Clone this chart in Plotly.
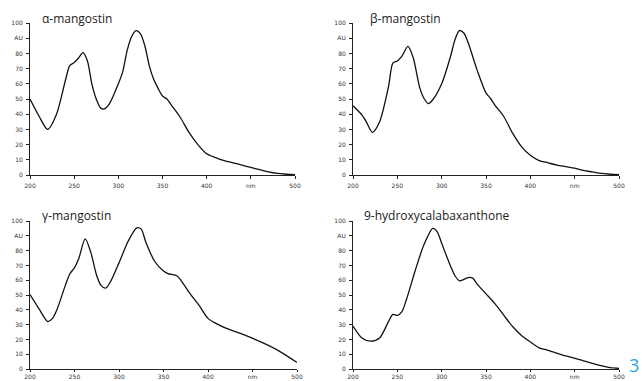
import plotly.graph_objects as go

# ---- data ----
titles = ["α-mangostin", "β-mangostin", "γ-mangostin", "9-hydroxycalabaxanthone"]

alpha_nm = [200, 210, 220, 230, 240, 245, 250, 255, 260, 265, 270, 275, 280, 284, 290, 300, 305, 310, 315, 320, 325, 330, 335, 340, 345, 350, 355, 360, 370, 380, 390, 400, 410, 420, 430, 440, 450, 460, 470, 480, 490, 500]
alpha_au = [50, 39, 30, 40, 62, 72, 74, 77, 80.5, 75, 60, 50, 44, 43.5, 47, 60, 68, 82, 91, 95, 93, 85, 72, 63, 57, 52, 50, 46, 38, 28, 20, 14, 11.5, 9.5, 8, 6.5, 5, 3.5, 2, 1, 0.5, 0.2]

beta_nm = [200, 210, 215, 222, 230, 240, 245, 250, 255, 262, 268, 275, 280, 285, 290, 300, 310, 315, 320, 325, 330, 340, 350, 355, 360, 370, 380, 390, 400, 410, 420, 430, 440, 450, 460, 470, 480, 490, 500]
beta_au = [45.5, 39.5, 35, 28, 35, 58, 73.6, 75, 78, 84.6, 77, 58, 50.5, 47, 49.5, 60, 78, 89, 95, 93.4, 86.8, 69, 54, 50.5, 46, 38.5, 27.5, 18.7, 13, 9.5, 8, 6.5, 5.5, 4.5, 3, 2, 1, 0.5, 0.2]

gamma_nm = [200, 210, 220, 225, 230, 240, 245, 250, 255, 262, 268, 275, 280, 285, 290, 300, 310, 320, 325, 330, 340, 350, 355, 365, 370, 380, 390, 400, 410, 420, 440, 460, 480, 500]
gamma_au = [50.3, 40.8, 32, 34, 39.7, 57, 64.5, 68.4, 75, 87.9, 79.5, 63, 56.3, 54.7, 58.5, 71.7, 86, 95.4, 94.5, 86, 72.8, 66.2, 64.5, 63, 59.6, 50.8, 43, 34.2, 30.5, 27.6, 23.2, 18.1, 12.1, 4.4]

hydroxy_nm = [200, 210, 220, 230, 240, 245, 250, 255, 260, 270, 280, 290, 295, 300, 310, 315, 320, 325, 330, 335, 340, 350, 360, 370, 380, 390, 400, 410, 420, 440, 460, 480, 490, 500]
hydroxy_au = [29, 21, 18.8, 21, 32, 36.9, 36.2, 38.6, 46.4, 66.2, 83.9, 95, 92.7, 85, 69.5, 63, 59.6, 60.5, 61.8, 61.4, 57.4, 50.8, 44.2, 36.4, 28.7, 22.7, 18.3, 14.3, 12.6, 8.8, 5.5, 2.2, 0.9, 0.4]

x_tickvals = [200, 250, 300, 350, 400, 450, 500]
x_ticktext = ["200", "250", "300", "350", "400", "nm", "500"]
y_tickvals = [0, 10, 20, 30, 40, 50, 60, 70, 80, 90, 100]
y_ticktext = ["0", "10", "20", "30", "40", "50", "60", "70", "80", "AU", "100"]

page_number = "3"

series = [(alpha_nm, alpha_au), (beta_nm, beta_au), (gamma_nm, gamma_au), (hydroxy_nm, hydroxy_au)]

W, H = 642, 381
# pixel boxes for each panel: (x_left, x_right, y_top(100), y_bottom(0))
boxes = [(30, 295, 23, 175), (353, 619, 23, 175), (30, 297, 221, 369), (353, 619, 221, 369)]
title_pos = [(40, 19), (368, 19), (40, 215), (362, 215)]

fig = go.Figure()
for i, ((xs, ys), (xl, xr, yt, yb)) in enumerate(zip(series, boxes)):
    n = i + 1
    xa = "x" if n == 1 else f"x{n}"
    ya = "y" if n == 1 else f"y{n}"
    fig.add_trace(go.Scatter(x=xs, y=ys, mode="lines", xaxis=xa, yaxis=ya,
                             line=dict(color="#111111", width=1.3, shape="spline", smoothing=0.8),
                             showlegend=False, hoverinfo="skip"))
    bottom = n >= 3
    axis_common = dict(showgrid=False, zeroline=False, showline=True, linecolor="#222222",
                       linewidth=1, ticks="outside", tickcolor="#222222", automargin=False,
                       tickfont=dict(family="DejaVu Sans", size=6, color="#333333"))
    fig.layout[("xaxis" if n == 1 else f"xaxis{n}")] = dict(
        domain=[xl / W, xr / W], range=[200, 500], anchor=ya,
        tickvals=x_tickvals, ticktext=x_ticktext, ticklen=2 if bottom else 3,
        ticklabelstandoff=0 if bottom else 2, **axis_common)
    fig.layout[("yaxis" if n == 1 else f"yaxis{n}")] = dict(
        domain=[1 - yb / H, 1 - yt / H], range=[0, 100], anchor=xa,
        tickvals=y_tickvals, ticktext=y_ticktext, ticklen=3, ticklabelstandoff=2, **axis_common)
    tx, ty = title_pos[i]
    fig.add_annotation(text=titles[i], x=tx / W, y=1 - ty / H, xref="paper", yref="paper",
                       xanchor="left", yanchor="middle", showarrow=False,
                       font=dict(family="Open Sans", size=12, color="#222222"))

fig.add_annotation(text=page_number, x=634 / W, y=1 - 365 / H, xref="paper", yref="paper",
                   xanchor="center", yanchor="middle", showarrow=False,
                   font=dict(family="Open Sans", size=18, color="#2aa7df"))

fig.update_layout(template="none", width=W, height=H, margin=dict(l=0, r=0, t=0, b=0),
                  paper_bgcolor="white", plot_bgcolor="white")

fig.write_html("out.html", config={"displayModeBar": False},
               post_script="document.body.style.margin='0';document.body.style.padding='0';")
